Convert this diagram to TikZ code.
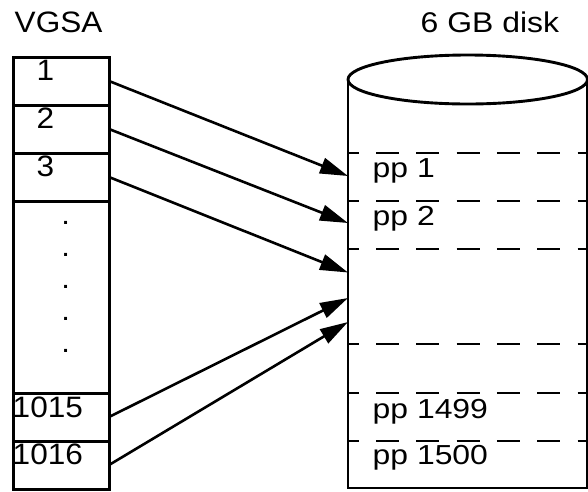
\documentclass[tikz,border=0pt]{standalone}
\usepackage{fontspec}
\setmainfont{Liberation Sans}[FakeStretch=1.07]
\newfontfamily\titlefont{Liberation Sans}[FakeStretch=1.12]
\newfontfamily\ppfont{Liberation Sans}[FakeStretch=1.16]
\usetikzlibrary{arrows.meta}
\begin{document}
\begin{tikzpicture}[x=1pt,y=-1pt,
  lbl/.style={font=\fontsize{29.5}{31}\selectfont, inner sep=0pt, anchor=base west},
  ttl/.style={font=\titlefont\fontsize{28.5}{31}\selectfont, inner sep=0pt, anchor=base west},
  pplbl/.style={font=\ppfont\fontsize{27.5}{30}\selectfont, inner sep=0pt, anchor=base west},
  dotlbl/.style={font=\fontsize{29}{31}\selectfont, inner sep=0pt, anchor=base},
  cell/.style={draw, line width=3pt, minimum width=96pt, inner sep=0pt, outer sep=0pt},
  disk/.style={line width=2.9pt},
  dashln/.style={line width=2.5pt, dash pattern=on 23pt off 17.3pt, dash phase=12.3pt},
  arr/.style={line width=2.6pt, -{Triangle[length=28pt,width=16pt]}}]
\useasboundingbox (0,0) rectangle (588,491);
% titles
\node[lbl] (vgsa) at (14.5,32.3) {VGSA};
\node[ttl] (disktitle) at (420.5,32) {6 GB disk};
% VGSA cells
\node[cell, minimum height=48pt] (c1) at (61,81) {};
\node[cell, minimum height=48pt] (c2) at (61,129) {};
\node[cell, minimum height=48pt] (c3) at (61,177) {};
\node[cell, minimum height=192pt] (cm) at (61,297) {};
\node[cell, minimum height=48pt] (c1015) at (61,417) {};
\node[cell, minimum height=48pt] (c1016) at (61,465) {};
\node[lbl] (l1) at (36.5,80) {1};
\node[lbl] (l2) at (36.5,128) {2};
\node[lbl] (l3) at (36.5,176.5) {3};
\node[lbl] (l1015) at (12.5,417) {1015};
\node[lbl] (l1016) at (12.5,464) {1016};
\foreach \y/\n in {224.5/a,256.5/b,288.5/c,320.5/d,352.5/e}
  \node[dotlbl] (dot\n) at (65.7,\y) {.};
% disk
\draw[disk] (348,79.5) -- (348,488) -- (587.5,488) -- (587.5,79.5);
\draw[disk] (467.75,79.5) ellipse [x radius=119.75pt, y radius=24.5pt];
\foreach \y in {153,201,249,344,393,441}
  \draw[dashln] (348,\y) -- (588,\y);
\node[pplbl] (pp1) at (372.5,177.5) {pp 1};
\node[pplbl] (pp2) at (372.5,225.5) {pp 2};
\node[pplbl] (pp1499) at (372.5,418) {pp 1499};
\node[pplbl] (pp1500) at (372.5,464.5) {pp 1500};
% arrow targets
\coordinate (t1) at (348,176);
\coordinate (t2) at (348,223);
\coordinate (t3) at (348,272.5);
\coordinate (t4) at (348,298);
\coordinate (t5) at (348,322);
\draw[arr] (c1.east) -- (t1);
\draw[arr] (c2.east) -- (t2);
\draw[arr] (c3.east) -- (t3);
\draw[arr] (c1015.east) -- (t4);
\draw[arr] (c1016.east) -- (t5);
\end{tikzpicture}
\end{document}
